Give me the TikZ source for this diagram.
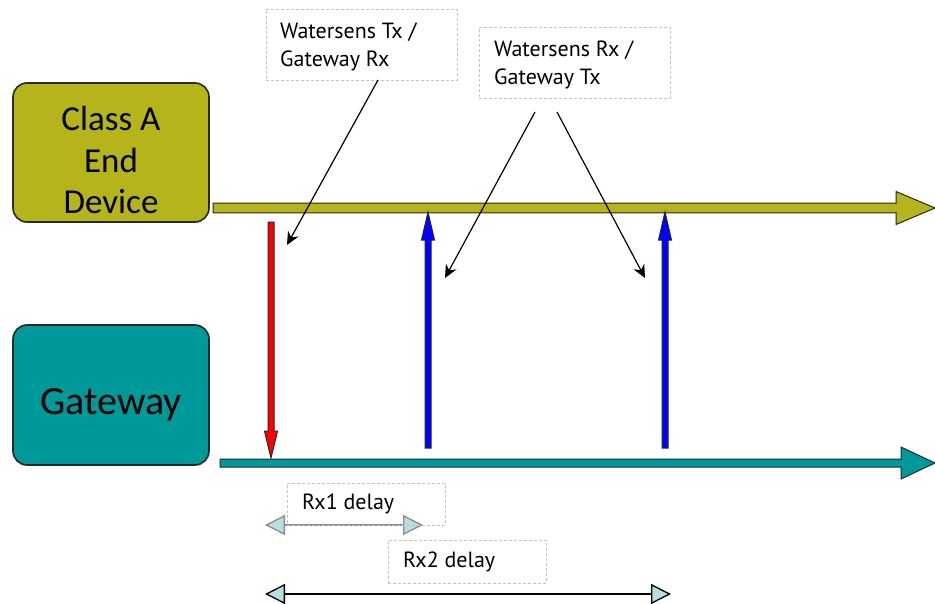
\documentclass[tikz,border=0pt]{standalone}
\usepackage{fontspec}
\setmainfont{Carlito}
\newfontfamily\lblfont{PT Sans}
\usetikzlibrary{calc,arrows.meta}
\definecolor{olivebox}{RGB}{181,180,27}
\definecolor{tealbox}{RGB}{0,153,153}
\definecolor{tipblue}{RGB}{183,222,225}
\definecolor{dashgray}{RGB}{195,195,195}
\definecolor{edgegray}{RGB}{40,40,40}
\newcommand{\fatarrow}[6]{%
  \coordinate (fa-h) at ($(#2)!#4!(#1)$);
  \filldraw[fatline, fill=#6]
    ($(#1)!#3!90:(#2)$) -- ($(fa-h)!#3!-90:(#1)$) -- ($(fa-h)!#5!-90:(#1)$)
    -- (#2) -- ($(fa-h)!#5!90:(#1)$) -- ($(fa-h)!#3!90:(#1)$)
    -- ($(#1)!#3!-90:(#2)$) -- cycle;
}
\tikzset{
  fatline/.style={draw=edgegray, line width=1pt, line join=miter},
  devbox/.style={draw=edgegray, line width=1.6pt, rounded corners=14pt,
    minimum width=196pt, minimum height=139pt, inner sep=0pt},
  devtext/.style={align=center, inner sep=0pt},
  lblbox/.style={draw=dashgray, dashed, dash pattern=on 3pt off 2pt, line width=0.8pt,
    anchor=north west, inner sep=0pt},
  lbltext/.style={font=\lblfont\fontsize{22}{28}\selectfont, align=left, anchor=north west, inner sep=0pt},
  callout/.style={line width=1.2pt, -{Stealth[length=13pt,width=12pt]}},
  delay/.style={line width=1.3pt, {Triangle[length=20pt,width=20pt,fill=tipblue]}-{Triangle[length=20pt,width=20pt,fill=tipblue]}},
}
\begin{document}
\begin{tikzpicture}[x=1pt,y=-1pt]
\useasboundingbox (0,0) rectangle (935,603);
% end device and gateway boxes
\node[devbox, fill=olivebox] (dev) at (111,152.5) {};
\node[devtext, font=\fontsize{35}{41.5}\selectfont] (devt) at (111,160) {Class A\\End\\Device};
\node[devbox, fill=tealbox, minimum height=140pt] (gw) at (111,395) {};
\node[devtext, anchor=base, font=\fontsize{40}{48}\selectfont] (gwt) at (111,414) {Gateway};
% timelines
\coordinate (devS) at (213,208); \coordinate (devE) at (935,208);
\coordinate (gwS) at (220,463);  \coordinate (gwE) at (935,463);
\fatarrow{devS}{devE}{4.8pt}{39pt}{16.5pt}{olivebox}
\fatarrow{gwS}{gwE}{4pt}{34pt}{16pt}{tealbox}
% uplink / downlink arrows
\coordinate (upS) at (271,222); \coordinate (upE) at (271,458);
\coordinate (dn1S) at (428,448); \coordinate (dn1E) at (428,212);
\coordinate (dn2S) at (665,448); \coordinate (dn2E) at (665,212);
\fatarrow{upS}{upE}{3pt}{27pt}{6.5pt}{red}
\fatarrow{dn1S}{dn1E}{3pt}{28pt}{6.5pt}{blue}
\fatarrow{dn2S}{dn2E}{3pt}{28pt}{6.5pt}{blue}
% labels
\node[lblbox, minimum width=191pt, minimum height=71pt] (l1) at (266,9) {};
\node[lbltext] (l1t) at (280,23) {Watersens Tx /\\Gateway Rx};
\node[lblbox, minimum width=191pt, minimum height=71pt] (l2) at (479,27) {};
\node[lbltext] (l2t) at (494,41) {Watersens Rx /\\Gateway Tx};
% callouts
\coordinate (c1a) at (378,80);  \coordinate (c1b) at (287,245);
\coordinate (c2a) at (535,112); \coordinate (c2b) at (445,278);
\coordinate (c3a) at (557,112); \coordinate (c3b) at (645,278);
\draw[callout] (c1a) -- (c1b);
\draw[callout] (c2a) -- (c2b);
\draw[callout] (c3a) -- (c3b);
% delays
\coordinate (r1a) at (265,525); \coordinate (r1b) at (423,525);
\coordinate (r2a) at (265,594); \coordinate (r2b) at (671,594);
\draw[delay, draw=black!45] (r1a) -- (r1b);
\draw[delay] (r2a) -- (r2b);
\node[lblbox, minimum width=158pt, minimum height=42pt] (d1) at (287,483) {};
\node[lbltext] (d1t) at (302,494) {Rx1 delay};
\node[lblbox, minimum width=158pt, minimum height=43pt] (d2) at (388,540) {};
\node[lbltext] (d2t) at (403,552) {Rx2 delay};
\end{tikzpicture}
\end{document}
